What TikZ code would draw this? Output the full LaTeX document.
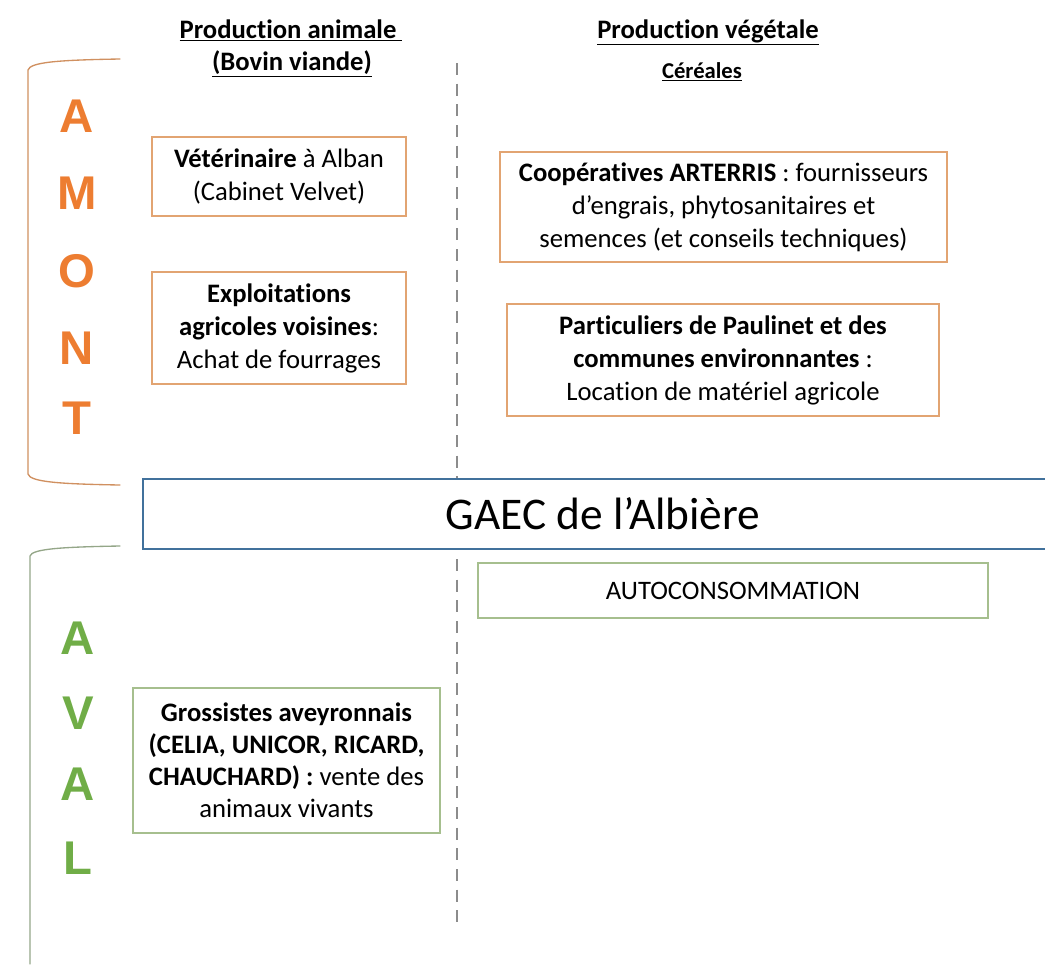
\documentclass[tikz,border=0pt]{standalone}
\usepackage{fontspec}
\setmainfont{Carlito}[Ligatures={NoCommon,NoRare,NoContextual}]
\newfontfamily\letterfont{Liberation Sans}
\definecolor{amontorange}{HTML}{ED7D31}
\definecolor{amontbrace}{HTML}{D09060}
\definecolor{amontbox}{HTML}{E2A472}
\definecolor{avalgreen}{HTML}{70AD47}
\definecolor{avalbrace}{HTML}{94A688}
\definecolor{avalbox}{HTML}{A6BF8E}
\definecolor{gaecblue}{HTML}{41719C}
\definecolor{sepgray}{HTML}{8C8C8C}
\tikzset{
  headtext/.style={font=\fontsize{20}{25}\selectfont\bfseries, inner sep=0pt, anchor=base},
  subhead/.style={font=\fontsize{17}{20}\selectfont\bfseries, inner sep=0pt, anchor=base},
  infobox/.style={draw, line width=1.2pt, fill=white, align=center, inner sep=0pt,
    font=\fontsize{20}{24.75}\selectfont},
  upbox/.style={infobox, draw=amontbox},
  downbox/.style={infobox, draw=avalbox},
  bigletter/.style={font=\letterfont\bfseries\fontsize{35.5}{40}\selectfont, inner sep=0pt},
  upletter/.style={bigletter, text=amontorange},
  downletter/.style={bigletter, text=avalgreen},
  brace/.style={line width=1pt, line cap=round},
  separator/.style={draw=sepgray, line width=1.5pt, dash pattern=on 9pt off 6.5pt}
}
\begin{document}
\begin{tikzpicture}[x=0.75pt, y=-0.75pt]
\useasboundingbox (0,0) rectangle (1045,964);

% column headers
\node[headtext] (hanim) at (291,38) {\underline{Production animale\ }};
\node[headtext] (hbov) at (292,70) {\underline{(Bovin viande)}};
\node[headtext] (hveg) at (708,38) {\underline{Production végétale}};
\node[subhead] (hcer) at (702,78) {\underline{Céréales}};

% dashed separator between the two productions
\coordinate (dtop) at (457,63);
\coordinate (dbot) at (457,930);
\draw[separator] (dtop) -- (dbot);

% upstream bracket and letters
\draw[brace, draw=amontbrace] (120,59) .. controls (60,60) and (30,62) .. (28,70)
  -- (28,474) .. controls (30,482) and (60,484) .. (120,485);
\node[upletter] (la1) at (77,116) {A};
\node[upletter] (la2) at (77,193) {M};
\node[upletter] (la3) at (77,271) {O};
\node[upletter] (la4) at (77,348) {N};
\node[upletter] (la5) at (77,418) {T};

% downstream bracket and letters
\draw[brace, draw=avalbrace] (120,546) .. controls (60,547) and (32,549) .. (30,556)
  -- (30,964);
\node[downletter] (lv1) at (78,638) {A};
\node[downletter] (lv2) at (78,713) {V};
\node[downletter] (lv3) at (78,784) {A};
\node[downletter] (lv4) at (78,858) {L};

% upstream partners
\node[upbox, minimum width=254*0.75pt, minimum height=79*0.75pt] (vet) at (279,176.5)
  {\textbf{Vétérinaire} à Alban\\(Cabinet Velvet)};
\node[upbox, minimum width=254*0.75pt, minimum height=112*0.75pt] (expl) at (279,328)
  {\textbf{Exploitations}\\\textbf{agricoles voisines}:\\Achat de fourrages};
\node[upbox, minimum width=447*0.75pt, minimum height=110*0.75pt] (coop) at (723.5,207)
  {\textbf{Coopératives ARTERRIS} : fournisseurs\\d’engrais, phytosanitaires et\\semences (et conseils techniques)};
\node[upbox, minimum width=432*0.75pt, minimum height=112*0.75pt] (part) at (723,360)
  {\textbf{Particuliers de Paulinet et des}\\\textbf{communes environnantes} :\\Location de matériel agricole};

% the farm itself
\node[draw=gaecblue, line width=2.2pt, fill=white, inner sep=0pt,
  minimum width=920*0.75pt, minimum height=70*0.75pt,
  font=\fontsize{34}{38}\selectfont] (gaec) at (603,514) {GAEC de l’Albière};

% downstream outlets
\node[downbox, minimum width=510*0.75pt, minimum height=55*0.75pt,
  font=\fontsize{20}{24}\selectfont] (auto) at (733,590.5) {AUTOCONSOMMATION};
\node[downbox, minimum width=307*0.75pt, minimum height=145*0.75pt,
  font=\fontsize{20}{24}\selectfont] (gross) at (286.5,760.5)
  {\textbf{Grossistes aveyronnais}\\\textbf{(CELIA, UNICOR, RICARD,}\\\textbf{CHAUCHARD) :} vente des\\animaux vivants};
\end{tikzpicture}
\end{document}
